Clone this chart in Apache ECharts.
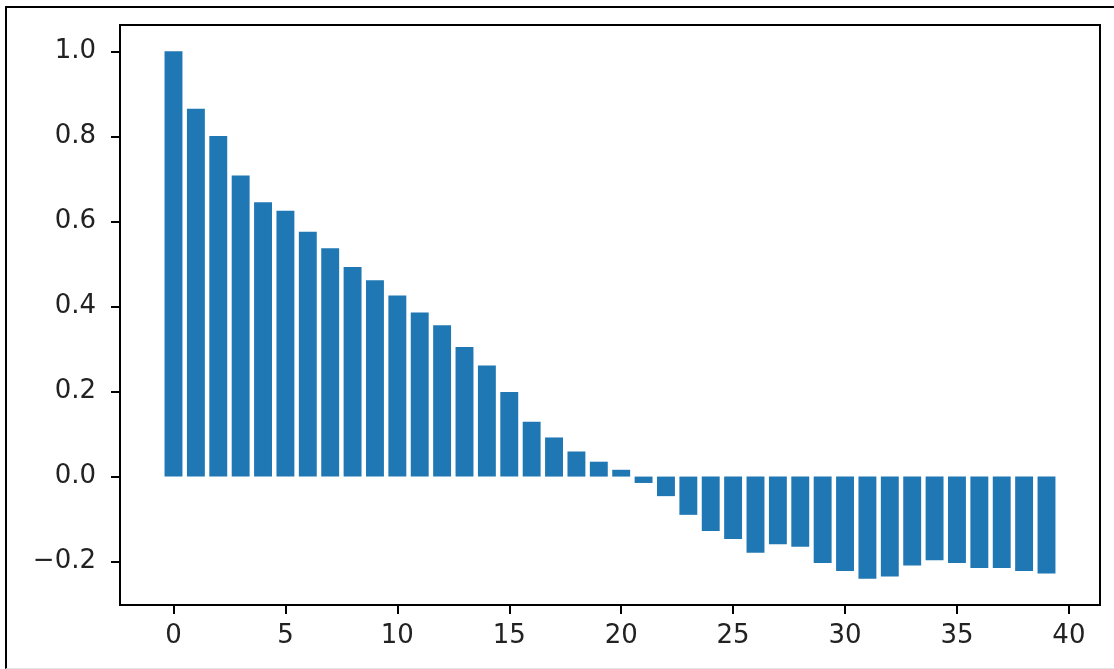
<!DOCTYPE html>
<html>
<head>
<meta charset="utf-8">
<script src="https://cdn.jsdelivr.net/npm/echarts@6/dist/echarts.min.js"></script>
<style>
  html, body { margin: 0; padding: 0; background: #fff; }
  #chart { position: absolute; left: 0; top: 0; width: 1114px; height: 669px; }
  #frame { position: absolute; left: 5px; top: 6px; width: 1120px; height: 660px;
           border-left: 2px solid #000; border-top: 2px solid #000; border-bottom: 1px solid #e4e4e4;
           pointer-events: none; }
</style>
</head>
<body>
<div id="chart"></div>
<div id="frame"></div>
<script>
// Lag index (x) and values (y)
const lags = [0,1,2,3,4,5,6,7,8,9,10,11,12,13,14,15,16,17,18,19,20,21,22,23,24,25,26,27,28,29,30,31,32,33,34,35,36,37,38,39];
const values = [1.0, 0.865, 0.801, 0.708, 0.645, 0.625, 0.576, 0.537, 0.493, 0.462,
                0.426, 0.386, 0.356, 0.305, 0.261, 0.199, 0.129, 0.092, 0.059, 0.035,
                0.016, -0.015, -0.046, -0.090, -0.128, -0.147, -0.179, -0.159, -0.165, -0.203,
                -0.222, -0.240, -0.235, -0.209, -0.197, -0.203, -0.215, -0.215, -0.222, -0.228];
const xTicks = [0, 5, 10, 15, 20, 25, 30, 35, 40];
const yTicks = [-0.2, 0.0, 0.2, 0.4, 0.6, 0.8, 1.0];

const BAR_W = 0.8;
const xMinData = lags[0] - BAR_W / 2, xMaxData = lags[lags.length - 1] + BAR_W / 2;
const xPad = (xMaxData - xMinData) * 0.05;
const yMinData = Math.min(0, ...values), yMaxData = Math.max(0, ...values);
const yPad = (yMaxData - yMinData) * 0.05;

const chart = echarts.init(document.getElementById('chart'));
const fontFamily = 'DejaVu Sans';
const axisColor = '#000';
chart.setOption({
  animation: false,
  grid: { left: 120, top: 25, right: 14, bottom: 64, show: true, borderColor: axisColor, borderWidth: 2, backgroundColor: 'transparent' },
  xAxis: {
    type: 'value',
    min: xMinData - xPad,
    max: xMaxData + xPad,
    splitLine: { show: false },
    axisLine: { show: true, onZero: false, lineStyle: { color: axisColor, width: 2 } },
    axisTick: { show: true, length: 9, lineStyle: { color: axisColor, width: 2 }, customValues: xTicks },
    axisLabel: { customValues: xTicks, color: '#222', fontFamily, fontSize: 26, margin: 18,
                 formatter: v => String(v) }
  },
  yAxis: {
    type: 'value',
    min: yMinData - yPad,
    max: yMaxData + yPad,
    splitLine: { show: false },
    axisLine: { show: true, onZero: false, lineStyle: { color: axisColor, width: 2 } },
    axisTick: { show: true, length: 9, lineStyle: { color: axisColor, width: 2 }, customValues: yTicks },
    axisLabel: { customValues: yTicks, color: '#222', fontFamily, fontSize: 26, margin: 24,
                 formatter: v => v.toFixed(1).replace('-', '\u2212') }
  },
  series: [{
    type: 'custom',
    data: lags.map((x, i) => [x, values[i]]),
    renderItem: function (params, api) {
      const x = api.value(0), y = api.value(1);
      const p0 = api.coord([x - BAR_W / 2, y]);
      const p1 = api.coord([x + BAR_W / 2, 0]);
      return {
        type: 'rect',
        shape: { x: p0[0], y: Math.min(p0[1], p1[1]), width: p1[0] - p0[0], height: Math.abs(p1[1] - p0[1]) },
        style: { fill: '#1f77b4' }
      };
    }
  }]
});
</script>
</body>
</html>
